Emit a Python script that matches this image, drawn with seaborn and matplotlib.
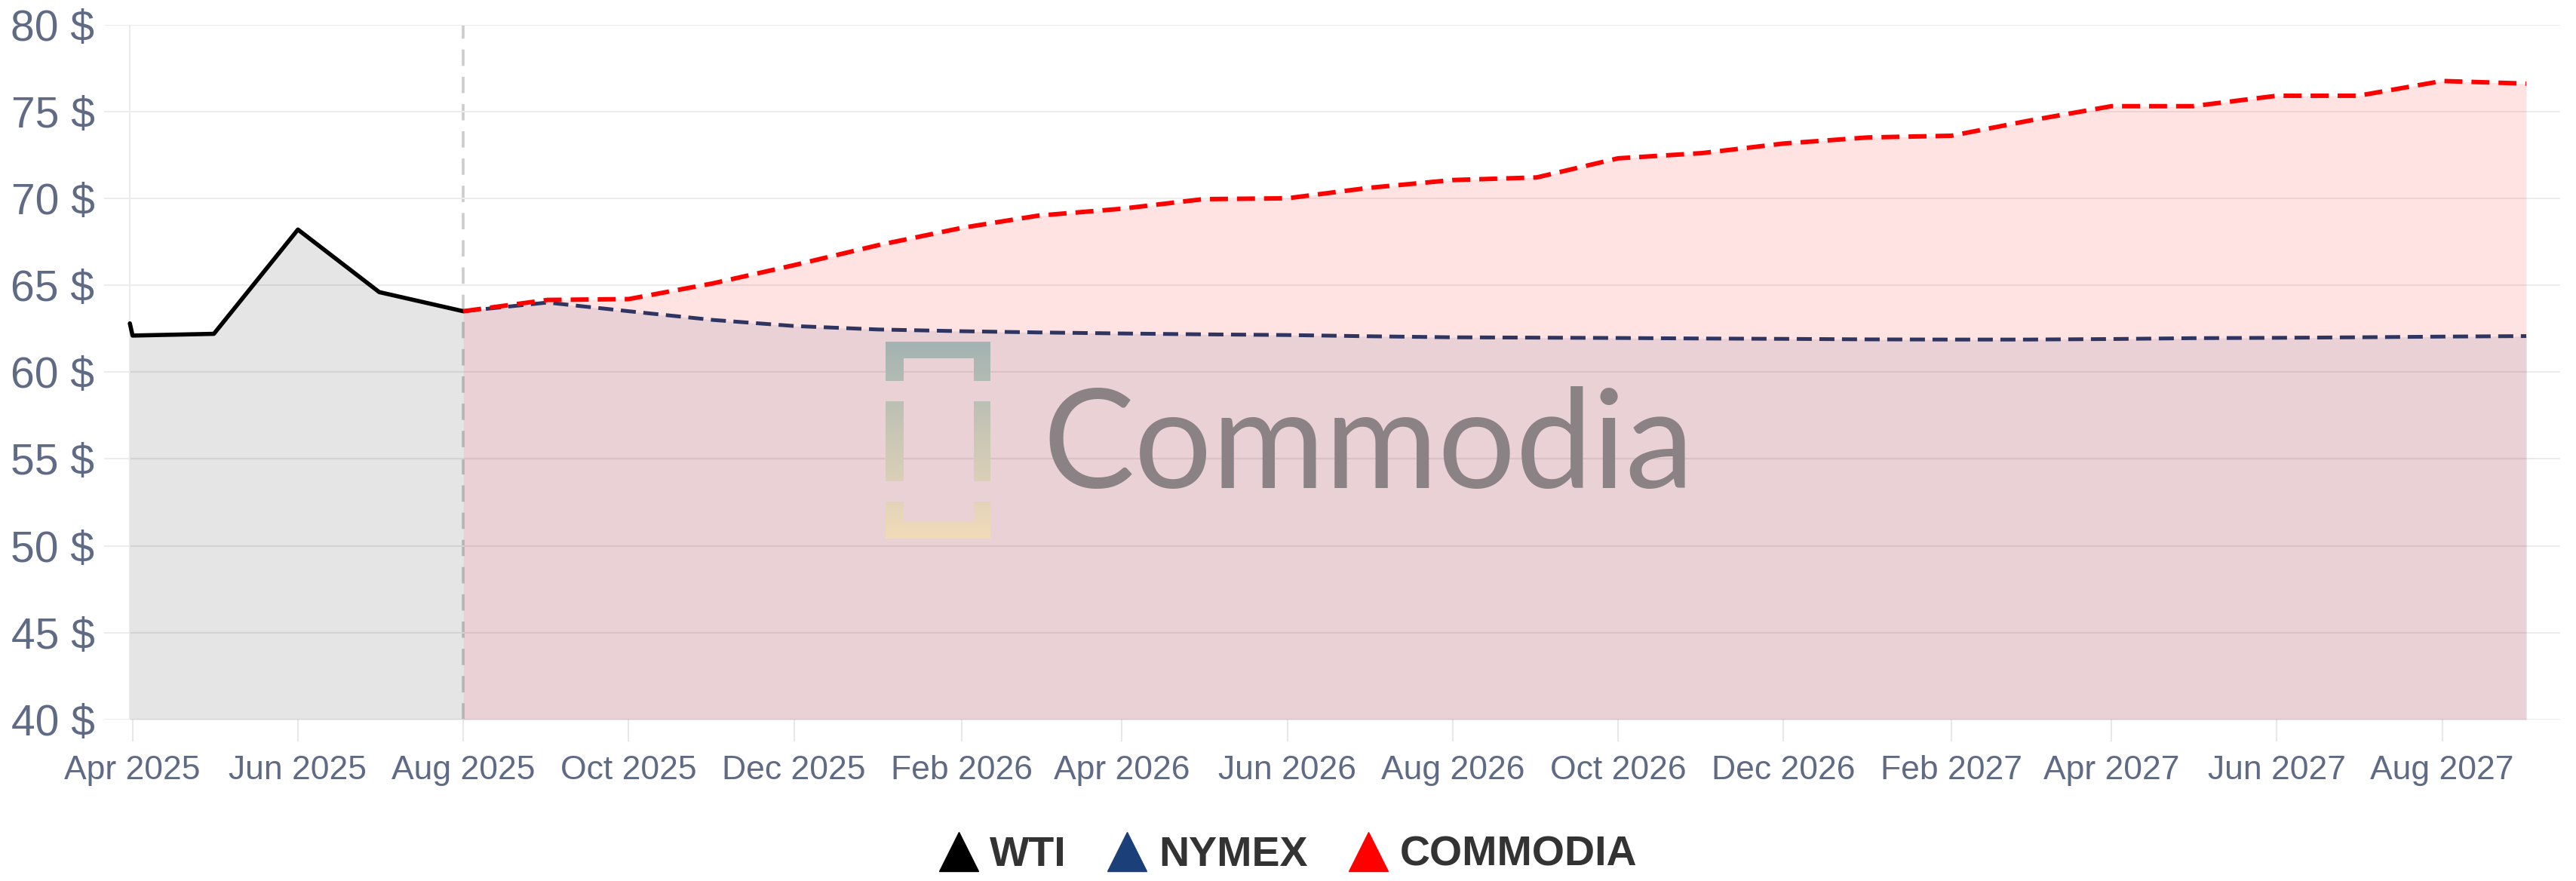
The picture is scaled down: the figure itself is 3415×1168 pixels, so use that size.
import numpy as np
import pandas as pd
import seaborn as sns
import matplotlib.pyplot as plt
import matplotlib.dates as mdates
from matplotlib.lines import Line2D
from matplotlib.path import Path
from matplotlib.transforms import Affine2D
from matplotlib.colors import LinearSegmentedColormap

# WTI history (USD/bbl)
wti_dates = pd.to_datetime(['2025-03-31', '2025-04-01', '2025-05-01', '2025-06-01',
                            '2025-07-01', '2025-08-01'])
wti_values = [62.8, 62.1, 62.2, 68.2, 64.6, 63.5]

# monthly forecasts Aug 2025 -> Sep 2027
fc_dates = pd.date_range('2025-08-01', '2027-09-01', freq='MS')
nymex_values = [63.5, 64.0, 63.5, 63.0, 62.65, 62.45, 62.35, 62.28, 62.22, 62.17, 62.13, 62.06, 62.0,
                61.98, 61.96, 61.93, 61.91, 61.88, 61.87, 61.87, 61.9, 61.95, 61.97, 62.0, 62.04, 62.07]
commodia_values = [63.5, 64.15, 64.2, 65.1, 66.15, 67.3, 68.3, 69.0, 69.4, 69.95, 70.0, 70.6, 71.05,
                   71.2, 72.3, 72.6, 73.15, 73.5, 73.6, 74.45, 75.3, 75.3, 75.9, 75.9, 76.75, 76.6]

y_ticks = [40, 45, 50, 55, 60, 65, 70, 75, 80]
legend_labels = ['WTI', 'NYMEX', 'COMMODIA']
legend_colors = ['#000000', '#1b3f78', '#ff0000']

df_wti = pd.DataFrame({'date': wti_dates, 'price': wti_values})
df_nymex = pd.DataFrame({'date': fc_dates, 'price': nymex_values})
df_com = pd.DataFrame({'date': fc_dates, 'price': commodia_values})

sns.set_theme(style='white')
plt.rcParams['font.family'] = ['Liberation Sans', 'DejaVu Sans']

W, H = 3416, 1168
fig = plt.figure(figsize=(W / 100, H / 100), dpi=100, facecolor='white')
ax = fig.add_axes([138 / W, 1 - 954 / H, (3394 - 138) / W, (954 - 32.5) / H])

# faint boundary + forecast start marker
ax.axvline(wti_dates[0], color='#ececec', lw=1.5, zorder=0.4)
ax.axvline(fc_dates[0], color='#cccccc', lw=2.6, ls=(0, (6, 4)), zorder=0.5)

# areas
ax.fill_between(df_wti['date'], df_wti['price'], 40, color='black', alpha=0.1, lw=0, zorder=1)
ax.fill_between(df_com['date'], df_com['price'], 40, color='#ff0000', alpha=0.11, lw=0, zorder=1)
ax.fill_between(df_nymex['date'], df_nymex['price'], 40, color='#2e3561', alpha=0.1, lw=0, zorder=1)

# lines
sns.lineplot(data=df_wti, x='date', y='price', color='black', linewidth=4, ax=ax, zorder=5)
sns.lineplot(data=df_nymex, x='date', y='price', color='#2e3561', linewidth=3.6,
             linestyle=(0, (4, 2)), ax=ax, zorder=5)
sns.lineplot(data=df_com, x='date', y='price', color='#ff0000', linewidth=4.3,
             linestyle=(0, (4, 2)), ax=ax, zorder=6)

ax.set_xlim(pd.Timestamp('2025-03-21 12:00'), pd.Timestamp('2027-09-13 12:00'))
ax.set_ylim(40, 80)
ax.set_yticks(y_ticks)
ax.set_yticklabels([f'{v} $' for v in y_ticks])
ax.xaxis.set_major_locator(mdates.MonthLocator(bymonth=[2, 4, 6, 8, 10, 12]))
ax.xaxis.set_major_formatter(mdates.DateFormatter('%b %Y'))
ax.set_xlabel('')
ax.set_ylabel('')
ax.yaxis.grid(True, color='#ececec', lw=1.5)
ax.xaxis.grid(False)
ax.set_axisbelow(True)
for s in ax.spines.values():
    s.set_visible(False)
ax.tick_params(axis='x', length=21, width=1.5, color='#e8e8e8', pad=13,
               labelsize=32, labelcolor='#5f6a84', bottom=True)
ax.tick_params(axis='y', length=0, pad=9, labelsize=41, labelcolor='#5f6a84')

# watermark: logo brackets with gradient
lax = fig.add_axes([1174 / W, 1 - 714 / H, 139 / W, 261 / H])
lax.set_xlim(0, 139)
lax.set_ylim(261, 0)
lax.axis('off')
cmap = LinearSegmentedColormap.from_list('logo', ['#a3b3b2', '#cbc8b6', '#f2dbb9'])
im = lax.imshow(np.linspace(0, 1, 256).reshape(-1, 1), extent=[0, 139, 261, 0],
                cmap=cmap, aspect='auto')
pieces = [(0, 0, 139, 22), (0, 22, 24, 30), (117, 22, 22, 30),
          (0, 79, 24, 106), (117, 79, 22, 106),
          (0, 212, 24, 27), (117, 212, 22, 27), (0, 239, 139, 22)]
paths = [Path.unit_rectangle().transformed(Affine2D().scale(w, h).translate(x, y))
         for x, y, w, h in pieces]
im.set_clip_path(Path.make_compound_path(*paths), lax.transData)

fig.text(1382 / W, 1 - 647 / H, 'Commodia', fontsize=131, family='Lato', fontweight='normal',
         color='#8a8284', ha='left', va='baseline')

# legend
handles = [Line2D([], [], marker='^', ls='none', color=c, markersize=37) for c in legend_colors]
fig.legend(handles, legend_labels, loc='center', bbox_to_anchor=(0.5, 1 - 1134 / H), ncol=3,
           frameon=False, handlelength=0.9, handletextpad=0.3, columnspacing=1.0,
           borderpad=0, labelcolor='#333333', prop=dict(weight='bold', size=40))

fig.savefig('out.png', dpi=100)
